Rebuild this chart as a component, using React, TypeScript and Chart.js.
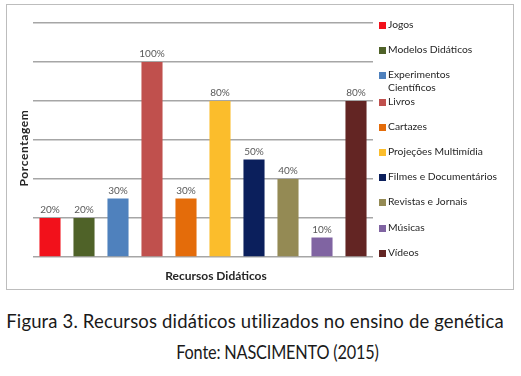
import React, { useEffect, useRef } from "react";
import { Chart, registerables } from "chart.js";

Chart.register(...registerables);

const categories = [
  "Jogos",
  "Modelos Didáticos",
  "Experimentos Científicos",
  "Livros",
  "Cartazes",
  "Projeções Multimídia",
  "Filmes e Documentários",
  "Revistas e Jornais",
  "Músicas",
  "Vídeos",
];
const legendLines = [
  ["Jogos"],
  ["Modelos Didáticos"],
  ["Experimentos", "Científicos"],
  ["Livros"],
  ["Cartazes"],
  ["Projeções Multimídia"],
  ["Filmes e Documentários"],
  ["Revistas e Jornais"],
  ["Músicas"],
  ["Vídeos"],
];
const values = [20, 20, 30, 100, 30, 80, 50, 40, 10, 80];
const colors = [
  "#f2111b",
  "#4f6228",
  "#4f81bd",
  "#c0504d",
  "#e46c0a",
  "#fbbd2c",
  "#0b1f5c",
  "#948a54",
  "#8064a2",
  "#632523",
];
const yTitle = "Porcentagem";
const xTitle = "Recursos Didáticos";
const caption1 = "Figura 3. Recursos didáticos utilizados no ensino de genética";
const caption2 = "Fonte: NASCIMENTO (2015)";

const FONT = "Lato, 'Open Sans', sans-serif";

export default function App() {
  const ref = useRef<HTMLCanvasElement | null>(null);

  useEffect(() => {
    document.body.style.margin = "0";
    const canvas = ref.current;
    if (!canvas) return;

    const decor = {
      id: "decor",
      afterDraw(chart: any) {
        const ctx = chart.ctx;
        ctx.save();
        // outer border
        ctx.strokeStyle = "#bdbdbd";
        ctx.lineWidth = 1;
        ctx.strokeRect(6.5, 4.5, 507, 285);

        // value labels
        const meta = chart.getDatasetMeta(0);
        ctx.fillStyle = "#595959";
        ctx.font = `10px ${FONT}`;
        ctx.textAlign = "center";
        ctx.textBaseline = "bottom";
        meta.data.forEach((bar: any, i: number) => {
          ctx.fillText(values[i] + "%", bar.x, bar.y - 3);
        });

        // axis titles
        ctx.fillStyle = "#262626";
        ctx.font = `bold 12px ${FONT}`;
        ctx.textBaseline = "middle";
        ctx.fillText(xTitle, 216, 276);
        ctx.save();
        ctx.translate(24, 148);
        ctx.rotate(-Math.PI / 2);
        (ctx as any).letterSpacing = "0.6px";
        ctx.fillText(yTitle, 0, 0);
        ctx.restore();

        // legend
        const ys = [25, 50, 75, 102, 127, 152, 177, 202, 228, 253];
        ctx.font = `10.3px ${FONT}`;
        ctx.textAlign = "left";
        legendLines.forEach((lines, i) => {
          const y = ys[i];
          ctx.fillStyle = colors[i];
          ctx.fillRect(379, y - 3, 7, 7);
          ctx.fillStyle = "#262626";
          lines.forEach((t, j) => {
            ctx.fillText(t, 388, y + j * 13);
          });
        });
        ctx.restore();
      },
    };

    const chart = new Chart(canvas, {
      type: "bar",
      data: {
        labels: categories,
        datasets: [
          {
            data: values,
            backgroundColor: colors,
            barPercentage: 0.62,
            categoryPercentage: 1,
          },
        ],
      },
      options: {
        responsive: false,
        animation: false,
        layout: { padding: { left: 33, right: 148, top: 23, bottom: 35 } },
        plugins: { legend: { display: false }, tooltip: { enabled: false } },
        scales: {
          x: {
            display: true,
            grid: { display: false, drawTicks: false },
            border: { display: false },
            ticks: { display: false },
          },
          y: {
            min: 0,
            max: 120,
            ticks: { display: false, stepSize: 20 },
            grid: { color: "#a6a6a6", lineWidth: 1.5, drawTicks: false },
            border: { display: false },
          },
        },
      },
      plugins: [decor],
    });
    return () => chart.destroy();
  }, []);

  return (
    <div style={{ position: "relative", width: 521, height: 376, background: "#fff" }}>
      <canvas ref={ref} width={521} height={292} style={{ display: "block" }} />
      <div
        style={{
          position: "absolute",
          left: 0,
          width: 510,
          top: 310,
          textAlign: "center",
          fontFamily: FONT,
          fontSize: 18.5,
          letterSpacing: 0.15,
          color: "#1a1a1a",
          whiteSpace: "nowrap",
        }}
      >
        {caption1}
      </div>
      <div
        style={{
          position: "absolute",
          left: 157,
          width: 241,
          top: 341,
          textAlign: "center",
          fontFamily: FONT,
          fontSize: 18.5,
          letterSpacing: -0.2,
          color: "#1a1a1a",
          whiteSpace: "nowrap",
          transform: "scaleX(0.88)",
          transformOrigin: "50% 50%",
        }}
      >
        {caption2}
      </div>
    </div>
  );
}
